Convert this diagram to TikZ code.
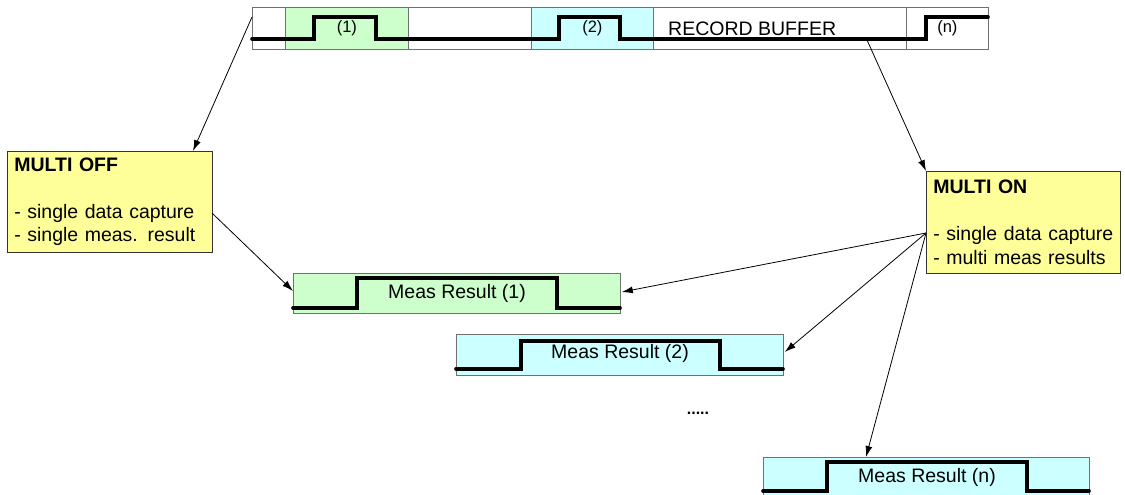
\documentclass[tikz,border=0pt]{standalone}
\usepackage{fontspec}
\setmainfont{Liberation Sans}
\usetikzlibrary{arrows.meta}
\definecolor{cgreen}{HTML}{CCFFCC}
\definecolor{ccyan}{HTML}{CCFFFF}
\definecolor{cyellow}{HTML}{FFFF99}
\definecolor{cborder}{HTML}{707070}
\tikzset{
  cell/.style={draw=cborder, line width=0.8pt, minimum height=42pt, inner sep=0pt, anchor=north west, font=\fontsize{16.5}{19}\selectfont},
  resbox/.style={draw=cborder, line width=0.8pt, inner sep=0pt, anchor=north west, minimum height=40pt, font=\fontsize{19.5}{23}\selectfont},
  infobox/.style={draw=black!80, line width=0.8pt, fill=cyellow, anchor=north west, align=left, inner xsep=7pt, inner ysep=0pt, font=\fontsize{19.5}{23.5}\selectfont},
  signal/.style={line width=3.6pt, line cap=round, line join=miter},
  conn/.style={line width=0.8pt, -{Latex[length=11pt,width=7pt]}},
}
\begin{document}
\begin{tikzpicture}[x=1pt,y=-1pt]
\useasboundingbox (0,0) rectangle (1125,495);
% record buffer
\node[cell, minimum width=33pt] (c0) at (252,7) {};
\node[cell, minimum width=123pt, fill=cgreen] (c1) at (285,7) {(1)};
\node[cell, minimum width=123pt] (c2) at (408,7) {};
\node[cell, minimum width=122pt, fill=ccyan] (c3) at (531,7) {(2)};
\node[cell, minimum width=253pt] (c4) at (653,7) {};
\node[cell, minimum width=82pt] (c5) at (906,7) {(n)};
\node[anchor=west, inner sep=0pt, font=\fontsize{19.5}{23}\selectfont] (rb) at (668,28.5) {RECORD BUFFER};
\draw[signal] (252,39) -- (314,39) -- (314,17) -- (376,17) -- (376,39) -- (559,39) -- (559,17) -- (620,17) -- (620,39) -- (926,39) -- (926,17) -- (988,17);
\coordinate (bufL) at (252,17);
\coordinate (bufR) at (867,40);
% info boxes
\node[infobox, minimum width=205pt, minimum height=101pt, text width=191pt] (off) at (7,151)
  {\textbf{MULTI OFF}\\[23.5pt]- single data capture\\- single meas. result};
\node[infobox, minimum width=194pt, minimum height=102pt, text width=180pt] (on) at (926,171)
  {\textbf{MULTI ON}\\[23.5pt]- single data capture\\- multi meas results};
% result boxes
\node[resbox, fill=cgreen, minimum width=327pt] (r1) at (293,273) {};
\node[font=\fontsize{19.5}{23}\selectfont, inner sep=0pt] (t1) at (457,293) {Meas Result (1)};
\draw[signal] (293,308) -- (357,308) -- (357,278) -- (557,278) -- (557,308) -- (620,308);
\node[resbox, fill=ccyan, minimum width=327pt, minimum height=41pt] (r2) at (456,334) {};
\node[font=\fontsize{19.5}{23}\selectfont, inner sep=0pt] (t2) at (620,353) {Meas Result (2)};
\draw[signal] (456,369) -- (521,369) -- (521,341) -- (720,341) -- (720,369) -- (783,369);
\node[resbox, fill=ccyan, minimum width=326pt] (rn) at (763,457) {};
\node[font=\fontsize{19.5}{23}\selectfont, inner sep=0pt] (tn) at (927,477) {Meas Result (n)};
\draw[signal] (763,491) -- (827,491) -- (827,462) -- (1027,462) -- (1027,491) -- (1089,491);
\node[font=\bfseries\fontsize{16}{18}\selectfont, inner sep=0pt] (dots) at (698,413) {.....};
% connectors
\coordinate (onL) at (926,233);
\coordinate (offR) at (212,213);
\draw[conn] (bufL) -- (off.north -| 193,0);
\draw[conn] (bufR) -- (on.north west);
\draw[conn] (offR) -- (r1.west |- 0,291);
\draw[conn] (onL) -- ([xshift=1pt]r1.east |- 0,292);
\draw[conn] (onL) -- ([xshift=1pt]r2.east |- 0,352);
\draw[conn] (onL) -- (rn.north -| 866,0);
\end{tikzpicture}
\end{document}
